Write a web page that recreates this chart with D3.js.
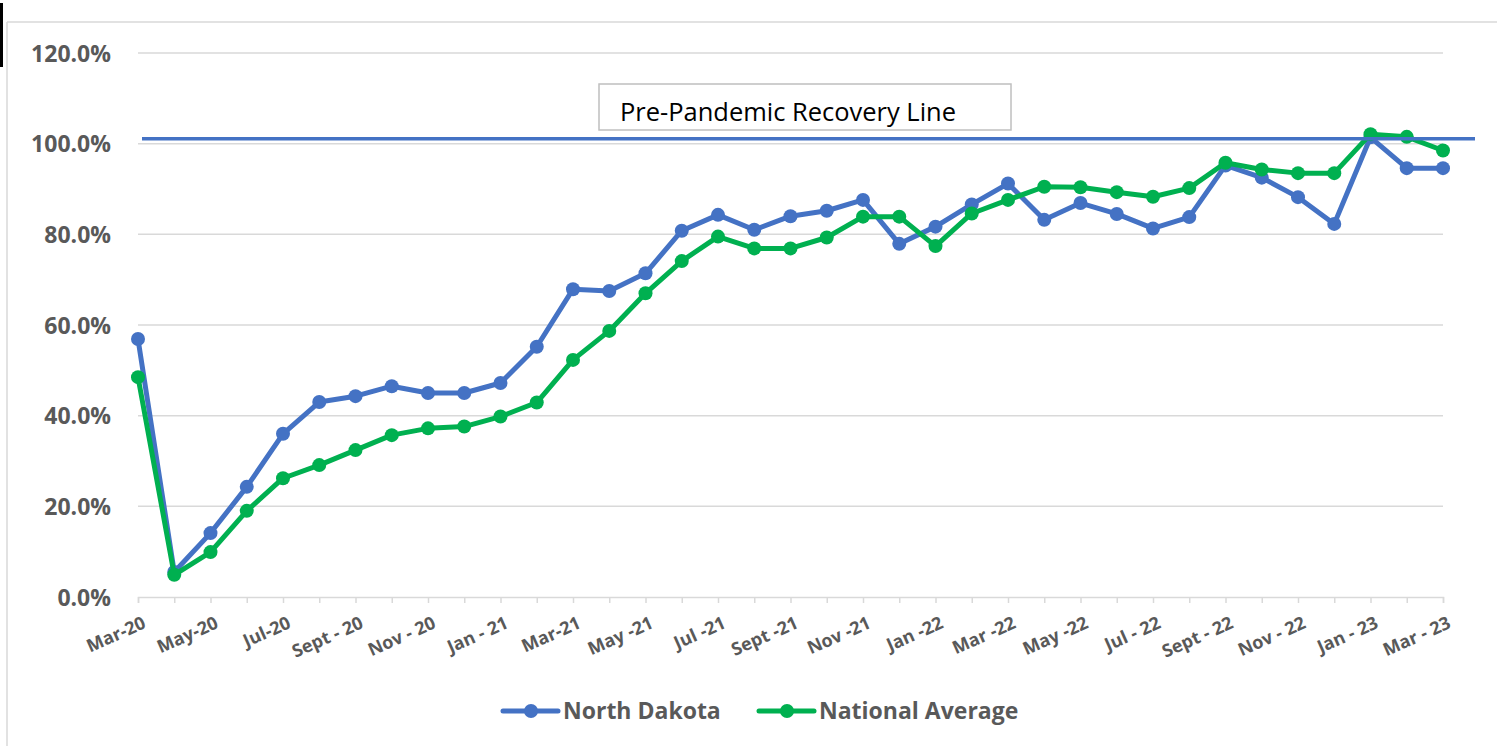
<!DOCTYPE html>
<html>
<head>
<meta charset="utf-8">
<script src="https://cdn.jsdelivr.net/npm/d3@7"></script>
<style>
  body { margin: 0; background: #ffffff; }
  svg { display: block; font-family: "Open Sans", "Liberation Sans", sans-serif; }
</style>
</head>
<body>
<svg id="chart"></svg>
<script>
// monthly categories, Mar-20 .. Mar-23
var categories = [
  "Mar-20", "Apr-20", "May-20", "Jun-20", "Jul-20", "Aug-20", "Sep-20", "Oct-20",
  "Nov-20", "Dec-20", "Jan-21", "Feb-21", "Mar-21", "Apr-21", "May-21", "Jun-21",
  "Jul-21", "Aug-21", "Sep-21", "Oct-21", "Nov-21", "Dec-21", "Jan-22", "Feb-22",
  "Mar-22", "Apr-22", "May-22", "Jun-22", "Jul-22", "Aug-22", "Sep-22", "Oct-22",
  "Nov-22", "Dec-22", "Jan-23", "Feb-23", "Mar-23"
];

// only every other month gets a label
var tickLabels = [
  "Mar-20", "", "May-20", "", "Jul-20", "", "Sept - 20", "", "Nov - 20", "",
  "Jan - 21", "", "Mar-21", "", "May -21", "", "Jul -21", "", "Sept -21", "",
  "Nov -21", "", "Jan -22", "", "Mar -22", "", "May -22", "", "Jul - 22", "",
  "Sept - 22", "", "Nov - 22", "", "Jan - 23", "", "Mar - 23"
];

var northDakota = [
  56.9, 5.5, 14.1, 24.3, 36.0, 43.0, 44.3, 46.5, 45.0, 45.0,
  47.2, 55.2, 67.9, 67.5, 71.4, 80.8, 84.3, 81.0, 84.0, 85.2,
  87.6, 77.9, 81.7, 86.6, 91.2, 83.2, 86.9, 84.5, 81.3, 83.8,
  95.2, 92.5, 88.2, 82.3, 101.4, 94.6, 94.6
];

var nationalAverage = [
  48.5, 4.9, 9.9, 19.0, 26.2, 29.1, 32.4, 35.7, 37.2, 37.6,
  39.8, 42.9, 52.3, 58.7, 67.0, 74.1, 79.5, 76.9, 76.9, 79.3,
  83.9, 83.9, 77.4, 84.6, 87.6, 90.5, 90.4, 89.3, 88.3, 90.2,
  95.8, 94.3, 93.5, 93.5, 102.1, 101.5, 98.5
];

var yTicks = [0, 20, 40, 60, 80, 100, 120];
var recoveryLevel = 101.1;
var recoveryLabel = "Pre-Pandemic Recovery Line";

var seriesNames = ["North Dakota", "National Average"];
var seriesColors = ["#4472C4", "#00B050"];

var fontFamily = '"Open Sans", "Liberation Sans", sans-serif';

var dimensions = {
  width: 1497,
  height: 746,
  margin: { top: 53, right: 54, bottom: 149, left: 138 },
};
dimensions.boundedWidth =
  dimensions.width - dimensions.margin.left - dimensions.margin.right;
dimensions.boundedHeight =
  dimensions.height - dimensions.margin.top - dimensions.margin.bottom;

var svg = d3
  .select("#chart")
  .attr("width", dimensions.width)
  .attr("height", dimensions.height);

// outer frame + black mark at top left
svg.append("rect").attr("x", 0).attr("y", 3).attr("width", 3).attr("height", 64).attr("fill", "#000");
svg.append("line").attr("x1", 7).attr("x2", dimensions.width).attr("y1", 22).attr("y2", 22)
  .attr("stroke", "#d9d9d9").attr("stroke-width", 1.5);
svg.append("line").attr("x1", 7).attr("x2", 7).attr("y1", 22).attr("y2", dimensions.height)
  .attr("stroke", "#d9d9d9").attr("stroke-width", 1.5);

var bounds = svg
  .append("g")
  .attr("transform", "translate(" + dimensions.margin.left + "," + dimensions.margin.top + ")");

// scales
var xScale = d3.scalePoint().domain(categories).range([0, dimensions.boundedWidth]);
var yScale = d3.scaleLinear().domain([0, 120]).range([dimensions.boundedHeight, 0]);

// gridlines
bounds
  .selectAll(".grid")
  .data(yTicks.filter(function (d) { return d > 0; }))
  .enter()
  .append("line")
  .attr("class", "grid")
  .attr("x1", 0)
  .attr("x2", dimensions.boundedWidth)
  .attr("y1", function (d) { return yScale(d); })
  .attr("y2", function (d) { return yScale(d); })
  .attr("stroke", "#d9d9d9")
  .attr("stroke-width", 1.5);

// y axis labels
var yAxis = d3
  .axisLeft(yScale)
  .tickValues(yTicks)
  .tickSize(0)
  .tickPadding(27)
  .tickFormat(function (d) { return d.toFixed(1) + "%"; });
var yG = bounds.append("g").call(yAxis).attr("font-family", fontFamily);
yG.select(".domain").remove();
yG.selectAll("text")
  .attr("fill", "#595959")
  .style("font-size", "23px")
  .style("font-weight", "700")
  .attr("dy", "0.36em");

// x axis
var xAxis = d3
  .axisBottom(xScale)
  .tickSize(6)
  .tickSizeOuter(6)
  .tickFormat(function (d, i) { return tickLabels[i]; });
var xG = bounds
  .append("g")
  .attr("transform", "translate(0," + dimensions.boundedHeight + ")")
  .call(xAxis)
  .attr("font-family", fontFamily);
xG.select(".domain").attr("stroke", "#d9d9d9").attr("stroke-width", 1.5);
xG.selectAll(".tick line").attr("stroke", "#d9d9d9").attr("stroke-width", 1.5);
xG.selectAll("text")
  .attr("fill", "#595959")
  .style("font-size", "18px")
  .style("font-weight", "700")
  .attr("text-anchor", "end")
  .attr("x", 0)
  .attr("y", 0)
  .attr("dy", "0.75em")
  .attr("transform", "translate(3,18) rotate(-24)");

// series lines and markers
var allSeries = [northDakota, nationalAverage];
var line = d3
  .line()
  .x(function (d, i) { return xScale(categories[i]); })
  .y(function (d) { return yScale(d); });

allSeries.forEach(function (values, s) {
  bounds
    .append("path")
    .datum(values)
    .attr("d", line)
    .attr("fill", "none")
    .attr("stroke", seriesColors[s])
    .attr("stroke-width", 5)
    .attr("stroke-linejoin", "round");
  bounds
    .selectAll(".dot" + s)
    .data(values)
    .enter()
    .append("circle")
    .attr("class", "dot" + s)
    .attr("cx", function (d, i) { return xScale(categories[i]); })
    .attr("cy", function (d) { return yScale(d); })
    .attr("r", 7)
    .attr("fill", seriesColors[s]);
});

// recovery line (runs a bit past the plot area)
bounds
  .append("line")
  .attr("x1", 4)
  .attr("x2", dimensions.boundedWidth + 32)
  .attr("y1", yScale(recoveryLevel))
  .attr("y2", yScale(recoveryLevel))
  .attr("stroke", "#4472C4")
  .attr("stroke-width", 3.5);

// annotation box
svg
  .append("rect")
  .attr("x", 599)
  .attr("y", 84)
  .attr("width", 412)
  .attr("height", 46)
  .attr("fill", "#fff")
  .attr("stroke", "#bfbfbf")
  .attr("stroke-width", 1.5);
svg
  .append("text")
  .attr("x", 620)
  .attr("y", 121)
  .attr("fill", "#000")
  .style("font-size", "25px")
  .attr("textLength", 336)
  .attr("lengthAdjust", "spacingAndGlyphs")
  .text(recoveryLabel);

// legend
var legendX = [503, 759];
var legend = svg
  .selectAll(".legend")
  .data(seriesNames)
  .enter()
  .append("g")
  .attr("class", "legend")
  .attr("transform", function (d, i) { return "translate(" + legendX[i] + ",711)"; });
legend
  .append("line")
  .attr("x1", 0)
  .attr("x2", 55)
  .attr("stroke", function (d, i) { return seriesColors[i]; })
  .attr("stroke-width", 5)
  .attr("stroke-linecap", "round");
legend
  .append("circle")
  .attr("cx", 28)
  .attr("r", 7)
  .attr("fill", function (d, i) { return seriesColors[i]; });
legend
  .append("text")
  .attr("x", 60)
  .attr("dy", "0.36em")
  .attr("fill", "#595959")
  .style("font-size", "23px")
  .style("font-weight", "700")
  .text(function (d) { return d; });
</script>
</body>
</html>
